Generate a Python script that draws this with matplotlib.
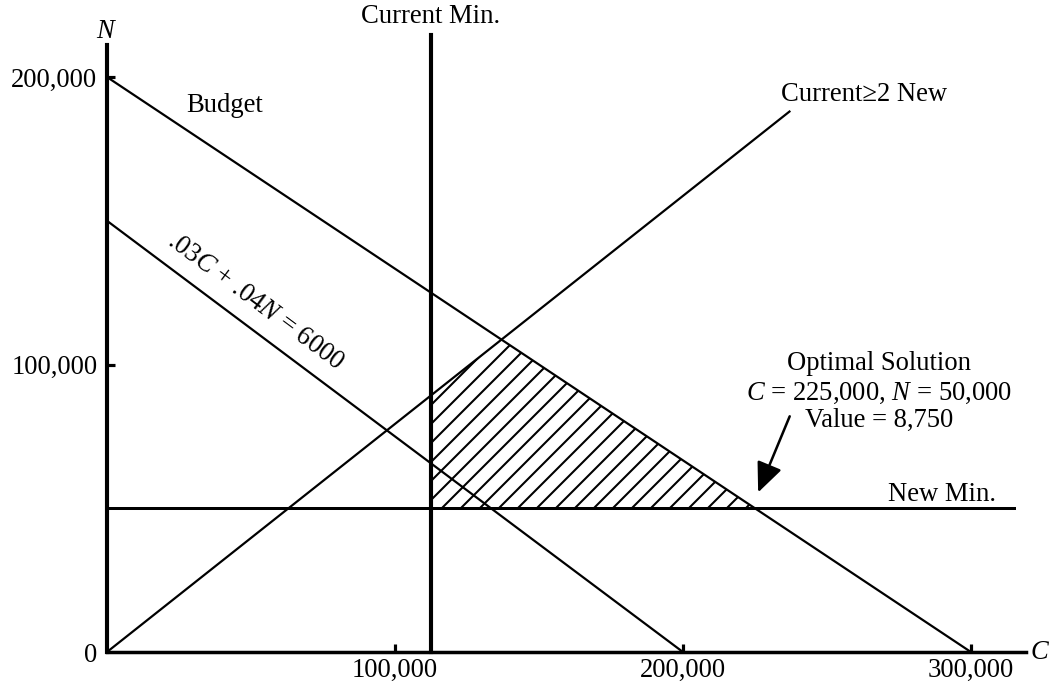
import matplotlib
matplotlib.use("Agg")
import matplotlib.pyplot as plt
import numpy as np

plt.rcParams['font.family'] = ['Liberation Serif', 'DejaVu Serif']
plt.rcParams['mathtext.fontset'] = 'custom'
plt.rcParams['mathtext.rm'] = 'Liberation Serif'
plt.rcParams['mathtext.it'] = 'Liberation Serif:italic'
plt.rcParams['hatch.linewidth'] = 1.3

# constraint lines (C, N)
budget_C = [0, 300000]
budget_N = [200000, 0]
obj_C = [0, 200000]
obj_N = [150000, 0]
ratio_C = [0, 237000]
ratio_N = [0, 188000]
current_min = 112500
current_top = 214500
new_min = 50000
new_min_end = 315000

x_ticks = [100000, 200000, 300000]
y_ticks = [0, 100000, 200000]

fs = 16.8
dpi = 114
fig = plt.figure(figsize=(1057 / dpi, 684 / dpi), dpi=dpi)
ax = fig.add_axes([0, 0, 1, 1])
ax.set_xlim(-37150, 329900)
ax.set_ylim(-11130, 226800)

for s in ['top', 'right']:
    ax.spines[s].set_visible(False)
ax.spines['left'].set_position(('data', 0))
ax.spines['bottom'].set_position(('data', 0))
ax.spines['left'].set_bounds(0, 211000)
ax.spines['bottom'].set_bounds(0, 319000)
ax.spines['left'].set_linewidth(2.6)
ax.spines['bottom'].set_linewidth(2.2)

ax.set_xticks(x_ticks)
ax.set_xticklabels([f"{v:,}" for v in x_ticks])
ax.set_yticks(y_ticks)
ax.set_yticklabels([f"{v:,}" for v in y_ticks])
ax.tick_params(axis='both', direction='in', length=5, width=2, labelsize=fs)
ax.tick_params(axis='x', pad=4)
ax.tick_params(axis='y', pad=6)
ax.yaxis.get_major_ticks()[0].tick1line.set_visible(False)

# feasible region
slope_b = (budget_N[1] - budget_N[0]) / (budget_C[1] - budget_C[0])
slope_r = ratio_N[1] / ratio_C[1]
c_int = budget_N[0] / (slope_r - slope_b)
c_opt = (new_min - budget_N[0]) / slope_b
poly_C = [current_min, current_min, c_int, c_opt]
poly_N = [new_min, slope_r * current_min, slope_r * c_int, new_min]
ax.fill(poly_C, poly_N, facecolor='none', edgecolor='black', hatch='//', linewidth=0)

ax.plot(budget_C, budget_N, color='black', lw=1.4)
ax.plot(obj_C, obj_N, color='black', lw=1.4)
ax.plot(ratio_C, ratio_N, color='black', lw=1.4)
ax.plot([current_min, current_min], [0, current_top], color='black', lw=2.6)
ax.plot([0, new_min_end], [new_min, new_min], color='black', lw=1.9)

ax.text(0, 216000, '$N$', fontsize=fs, ha='center', va='center')
ax.text(324000, 0, '$C$', fontsize=fs, ha='center', va='center')
ax.text(41000, 190000, 'Budget', fontsize=fs, ha='center', va='center')
ax.text(current_min, 221000, 'Current Min.', fontsize=fs, ha='center', va='center')
ax.text(263000, 194000, 'Current\u22652 New', fontsize=fs, ha='center', va='center')
ax.text(290000, 54800, 'New Min.', fontsize=fs, ha='center', va='center')
ax.text(51500, 122000, '.03$C$ + .04$N$ = 6000', fontsize=fs, ha='center', va='center',
        rotation=-36.6)

ax.text(268000, 100500, 'Optimal Solution', fontsize=fs, ha='center', va='center')
ax.text(268000, 90000, '$C$ = 225,000, $N$ = 50,000', fontsize=fs, ha='center', va='center')
ax.text(268000, 80700, 'Value = 8,750', fontsize=fs, ha='center', va='center')
ax.annotate('', xy=(c_opt + 700, new_min + 4500), xytext=(237500, 83000),
            arrowprops=dict(arrowstyle='-|>,head_length=0.8,head_width=0.35',
                            color='black', lw=1.6, mutation_scale=20))

fig.savefig('out.png', dpi=dpi)
